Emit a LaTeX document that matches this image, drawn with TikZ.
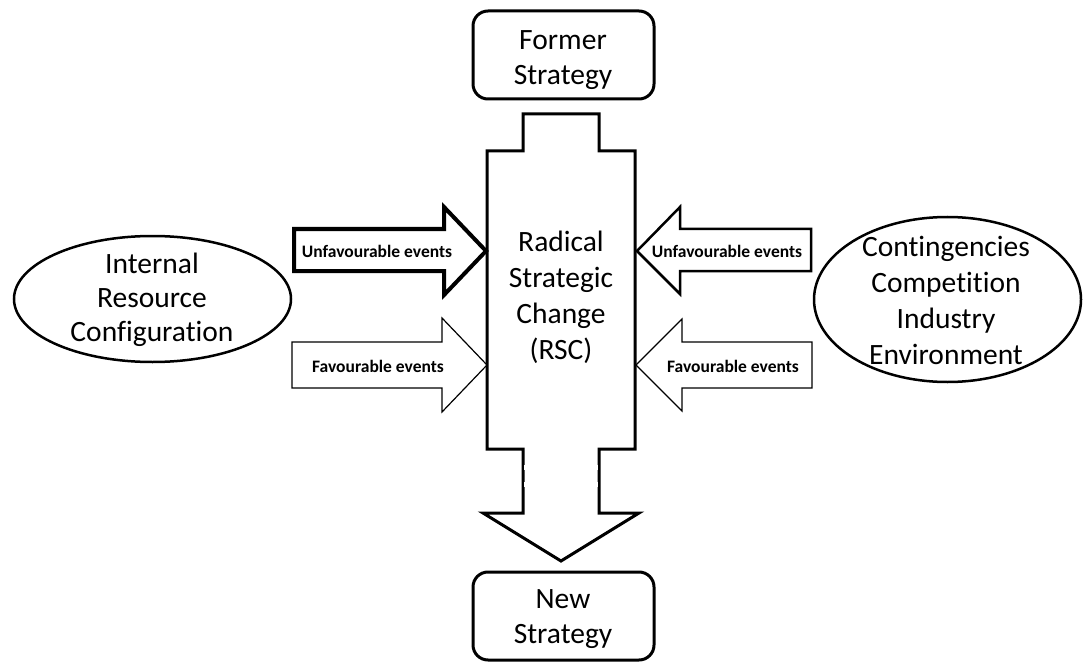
\documentclass[tikz,border=0pt]{standalone}
\usepackage{fontspec}
\setmainfont[Ligatures={NoCommon}]{Carlito}
\usetikzlibrary{shapes.geometric}
\begin{document}
\begin{tikzpicture}[x=1pt,y=-1pt,
 big/.style={font=\fontsize{29.5}{35}\selectfont, align=center, inner sep=0pt},
 lab/.style={font=\fontsize{17.5}{18}\selectfont\bfseries, inner sep=0pt},
 rbox/.style={draw, line width=3pt, rounded corners=15pt, minimum width=181pt, minimum height=88pt, inner sep=0pt},
 oval/.style={draw, ellipse, line width=2.5pt, inner sep=0pt},
 core/.style={draw, line width=3pt, line join=miter, fill=white},
 harrowthick/.style={draw, line width=4pt, line join=miter, fill=white},
 harrowmid/.style={draw, line width=2.5pt, line join=miter, fill=white},
 harrowthin/.style={draw, line width=1.2pt, line join=miter, fill=white}]
\useasboundingbox (0,0) rectangle (1084,663);

% top and bottom strategy boxes
\node[rbox] (former) at (563.5,55) {};
\node[big] (formerT) at (563,60) {Former\\Strategy};
\node[rbox] (new) at (563.5,616) {};
\node[big] (newT) at (563,619) {New\\Strategy};

% ellipses
\node[oval, minimum width=277pt, minimum height=126pt] (irc) at (152.5,299) {};
\node[big, font=\fontsize{29.5}{34}\selectfont] (ircT) at (152,300) {Internal\\Resource\\Configuration};
\node[oval, minimum width=267pt, minimum height=165pt] (env) at (947.5,299.5) {};
\node[big, font=\fontsize{29.5}{36}\selectfont] (envT) at (946,300) {Contingencies\\Competition\\Industry\\Environment};

% central RSC shape
\draw[core] (523,114) -- (599,114) -- (599,151) -- (635,151) -- (635,449) -- (599,449)
  -- (599,513) -- (639,513) -- (561,561) -- (483,513) -- (523,513) -- (523,449)
  -- (487,449) -- (487,151) -- (523,151) -- cycle;
\draw[white, line width=1pt] (524.8,465) -- (524.8,470) (524.8,482) -- (524.8,487)
  (597.2,465) -- (597.2,470) (597.2,482) -- (597.2,487);
\node[big, font=\fontsize{29.5}{36}\selectfont] (rsc) at (561,297) {Radical\\Strategic\\Change\\(RSC)};

% left arrows
\draw[harrowthick] (294,229) -- (444,229) -- (444,207) -- (486,251) -- (444,295) -- (444,271) -- (294,271) -- cycle;
\node[lab] (lu) at (377,251) {Unfavourable events};
\draw[harrowthin] (292,342) -- (442,342) -- (442,318) -- (487,365) -- (442,412) -- (442,388) -- (292,388) -- cycle;
\node[lab] (lf) at (378,366) {Favourable events};

% right arrows
\draw[harrowmid] (811,229) -- (680,229) -- (680,207) -- (637,251) -- (680,294) -- (680,271) -- (811,271) -- cycle;
\node[lab] (ru) at (727,251) {Unfavourable events};
\draw[harrowthin] (812,342) -- (682,342) -- (682,319) -- (636,365) -- (682,411) -- (682,388) -- (812,388) -- cycle;
\node[lab] (rf) at (733,366) {Favourable events};
\end{tikzpicture}
\end{document}
